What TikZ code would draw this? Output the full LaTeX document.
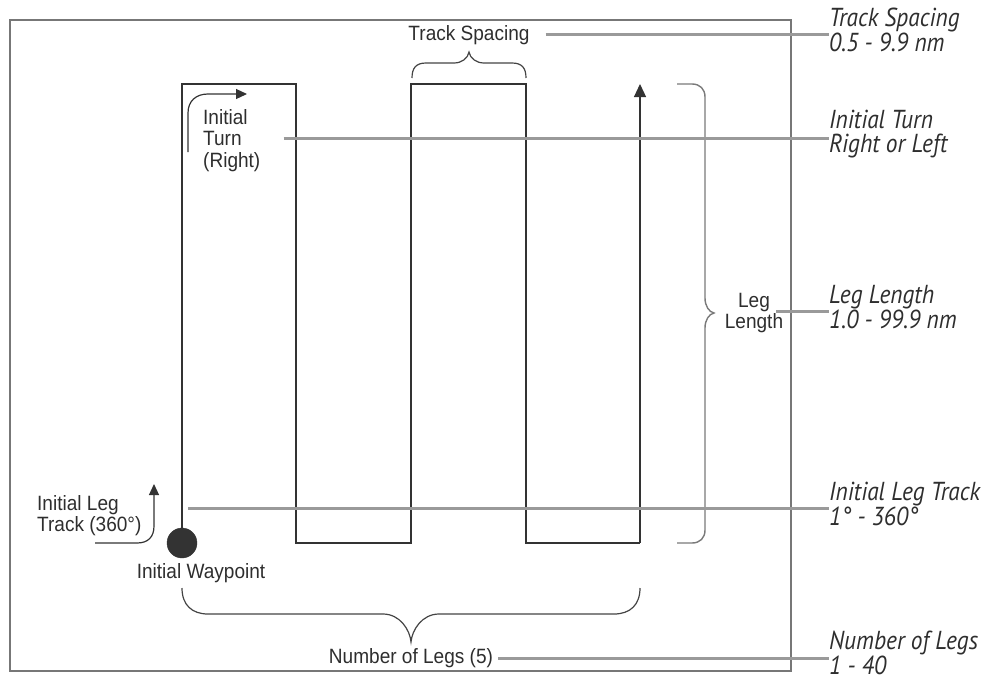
\documentclass[tikz,border=0pt]{standalone}
\usepackage{fontspec}
\usetikzlibrary{arrows.meta}
\newfontfamily\inlabfont{Liberation Sans}[FakeStretch=0.92]
\newfontfamily\outlabfont{PT Sans}[FakeStretch=0.9]
\definecolor{trackcol}{HTML}{333333}
\definecolor{framecol}{HTML}{777777}
\definecolor{conncol}{HTML}{9A9A9A}
\definecolor{bracecol}{HTML}{444444}
\definecolor{bracecolb}{HTML}{7A7A7A}
\definecolor{textcol}{HTML}{2E2E2E}
\tikzset{
  trackline/.style={draw=trackcol, line width=1.2pt},
  framebox/.style={draw=framecol, line width=1.4pt},
  conn/.style={draw=conncol, line width=3pt},
  bracepath/.style={draw=bracecol, line width=1.2pt},
  bracepathb/.style={draw=bracecolb, line width=1.4pt},
  arr/.style={draw=trackcol, line width=1.2pt, -{Triangle[length=13pt,width=12pt]}},
  arrs/.style={draw=trackcol, line width=1.2pt, -{Triangle[length=11pt,width=10pt]}},
  inlab/.style={inner sep=0pt, text=textcol, font=\inlabfont\fontsize{20.7}{21.5}\selectfont},
  outlab/.style={inner sep=0pt, anchor=west, align=left, text=textcol, font=\outlabfont\itshape\fontsize{26}{24.5}\selectfont},
}
\begin{document}
\begin{tikzpicture}[x=1pt,y=-1pt]
\useasboundingbox (0,0) rectangle (993,681);
% frame
\draw[framebox] (10,20) rectangle (791,671);

% track corners
\coordinate (p0) at (182,543);
\coordinate (p1) at (182,84);
\coordinate (p2) at (296,84);
\coordinate (p3) at (296,543);
\coordinate (p4) at (411,543);
\coordinate (p5) at (411,84);
\coordinate (p6) at (526,84);
\coordinate (p7) at (526,543);
\coordinate (p8) at (640,543);
\coordinate (p9) at (640,84);

\draw[trackline] (p0) -- (p1) -- (p2) -- (p3) -- (p4) -- (p5) -- (p6) -- (p7) -- (p8);
\draw[arr] (p8) -- (p9);

% initial waypoint
\node[circle, fill=trackcol, draw=trackcol, minimum size=30pt, inner sep=0pt] (wp) at (p0) {};
\node[inlab, anchor=north] (wpl) at (201,563) {Initial Waypoint};

% initial turn arrow
\coordinate (ta0) at (188,152);
\coordinate (ta1) at (247,94);
\draw[arrs] (ta0) -- (188,113) .. controls (188,101) and (196,94) .. (208,94) -- (ta1);
\node[inlab, anchor=north west, align=left] (it) at (203,109) {Initial\\Turn\\(Right)};

% initial leg track arrow
\coordinate (la0) at (95,543);
\coordinate (la1) at (154,484);
\draw[arrs] (la0) -- (137,543) .. controls (148,543) and (154,537) .. (154,526) -- (la1);
\node[inlab, anchor=north west, align=left] (ilt) at (37,495) {Initial Leg\\Track (360°)};

% track spacing brace
\draw[bracepath] (412,78) .. controls (412,68) and (416,63) .. (426,63) -- (454,63)
  .. controls (462,63) and (468,58) .. (469,52)
  .. controls (470,58) and (476,63) .. (484,63) -- (512,63)
  .. controls (522,63) and (526,68) .. (526,78);
\node[inlab, anchor=center] (ts) at (469,35) {Track Spacing};

% leg length brace
\draw[bracepathb] (677,84) -- (692,84) .. controls (700,84) and (705,89) .. (705,97) -- (705,298)
  .. controls (705,306) and (709,312) .. (714,313)
  .. controls (709,314) and (705,320) .. (705,328) -- (705,530)
  .. controls (705,538) and (700,543) .. (692,543) -- (677,543);
\node[inlab, anchor=north, align=center] (ll) at (754,293) {Leg\\Length};

% number of legs brace
\draw[bracepath] (182,588) .. controls (182,605) and (192,614) .. (208,614) -- (383,614)
  .. controls (400,614) and (410,630) .. (411,642)
  .. controls (412,630) and (422,614) .. (439,614) -- (614,614)
  .. controls (630,614) and (640,605) .. (640,588);
\node[inlab, anchor=center] (nl) at (411,658) {Number of Legs (5)};

% right labels
\node[outlab] (tsr) at (829,30) {Track Spacing\\0.5 - 9.9 nm};
\node[outlab] (itr) at (829,134) {Initial Turn\\Right or Left};
\node[outlab] (llr) at (829,307) {Leg Length\\1.0 - 99.9 nm};
\node[outlab] (iltr) at (829,504) {Initial Leg Track\\1° - 360°};
\node[outlab] (nlr) at (829,653) {Number of Legs\\1 - 40};

% connectors
\coordinate (iltstart) at (188,508);
\draw[conn] ([xshift=16pt]ts.east |- tsr.west) ++(0,4) -- ([yshift=-4pt]tsr.west);
\draw[conn] ([xshift=23pt]it.east |- itr.west) ++(0,4) -- ([yshift=-4pt]itr.west);
\draw[conn] ([xshift=-7pt]ll.east |- llr.west) ++(0,4) -- ([yshift=-4pt]llr.west);
\draw[conn] (iltstart) -- ([yshift=-4pt]iltr.west);
\draw[conn] ([xshift=5pt]nl.east |- nlr.west) ++(0,5) -- ([yshift=-5pt]nlr.west);
\end{tikzpicture}
\end{document}
